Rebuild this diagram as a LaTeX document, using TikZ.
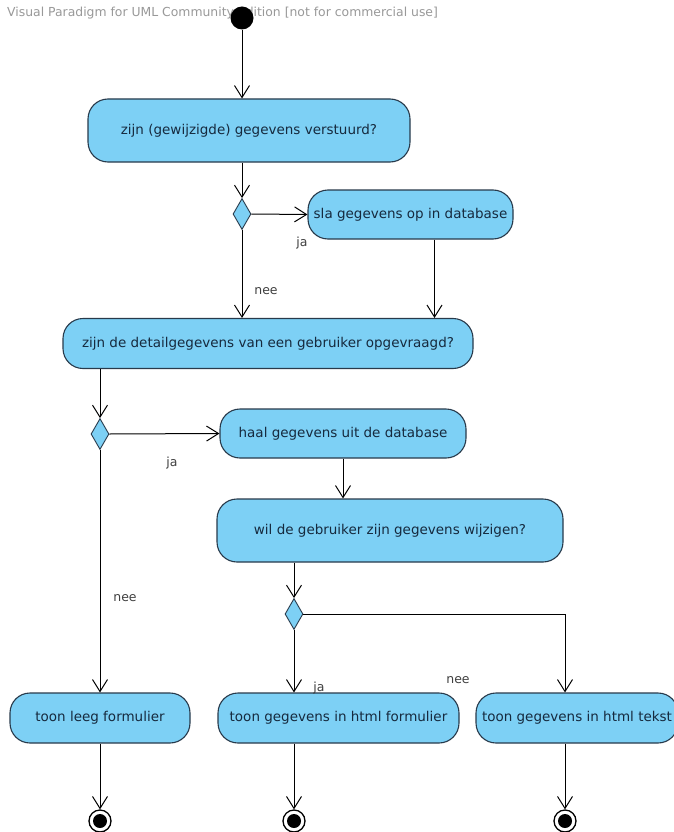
\documentclass[tikz,border=0pt]{standalone}
\usepackage{fontspec}
\setmainfont{DejaVu Sans}
\usetikzlibrary{arrows.meta,shapes.geometric}
\definecolor{actfill}{RGB}{125,208,245}
\definecolor{actdraw}{RGB}{40,58,75}
\definecolor{acttext}{RGB}{22,42,62}
\begin{document}
\begin{tikzpicture}[x=1pt,y=-1pt,
  act/.style={draw=actdraw, fill=actfill, rounded corners=20pt, line width=1.1pt,
    font=\fontsize{13.5}{15}\selectfont, text=acttext, inner sep=0pt},
  dec/.style={diamond, draw=actdraw, fill=actfill, minimum width=18pt, minimum height=31pt,
    inner sep=0pt, line width=0.9pt},
  flow/.style={-{Straight Barb[length=12pt,width=15pt,line width=1pt]}, line width=1pt},
  lbl/.style={font=\fontsize{12.5}{14}\selectfont, text=black!75, inner sep=0pt},
  startnode/.style={circle, fill=black, minimum size=23pt, inner sep=0pt},
  endnode/.style={circle, draw=black, fill=white, line width=1.3pt, minimum size=22pt, inner sep=0pt,
    path picture={\fill[black] (path picture bounding box.center) circle (7pt);}}]
\useasboundingbox (0,0) rectangle (674,832);
\fill[white] (0,0) rectangle (674,832);
% watermark
\node[anchor=west, text=black!40, font=\fontsize{12.4}{14}\selectfont, inner sep=0pt] (wm) at (7,13)
  {Visual Paradigm for UML Community Edition [not for commercial use]};
% nodes
\node[startnode] (init) at (242,18) {};
\node[act, minimum width=322pt, minimum height=63pt] (A1) at (249,130.5) {zijn (gewijzigde) gegevens verstuurd?};
\node[dec] (D1) at (242,214) {};
\node[act, minimum width=205pt, minimum height=49pt] (A2) at (410.5,214.5) {sla gegevens op in database};
\node[act, minimum width=410pt, minimum height=50pt] (A3) at (268,343.5) {zijn de detailgegevens van een gebruiker opgevraagd?};
\node[dec] (D2) at (100,434) {};
\node[act, minimum width=246pt, minimum height=49pt] (A4) at (343,433.5) {haal gegevens uit de database};
\node[act, minimum width=346pt, minimum height=63pt] (A5) at (390,530.5) {wil de gebruiker zijn gegevens wijzigen?};
\node[dec] (D3) at (294,614) {};
\node[act, minimum width=180pt, minimum height=50pt] (A6) at (100,718) {toon leeg formulier};
\node[act, minimum width=241pt, minimum height=50pt] (A7) at (338.5,718) {toon gegevens in html formulier};
\node[act, minimum width=202pt, minimum height=50pt] (A8) at (577,718) {toon gegevens in html tekst};
\node[endnode] (F1) at (100,821) {};
\node[endnode] (F2) at (294,821) {};
\node[endnode] (F3) at (565,821) {};
\coordinate (c3) at (565,614);
% flows
\draw[flow] (init) -- (init |- A1.north);
\draw[flow] (A1.south -| D1) -- (D1.north);
\draw[flow] (D1.east) -- (A2.west);
\draw[flow] (D1.south) -- (D1 |- A3.north);
\draw[flow] ([xshift=24pt]A2.south) -- ([xshift=24pt]A2.south |- A3.north);
\draw[flow] (A3.south -| D2) -- (D2.north);
\draw[flow] (D2.east) -- (A4.west);
\draw[flow] (D2.south) -- (D2 |- A6.north);
\draw[flow] (A4.south) -- (A4.south |- A5.north);
\draw[flow] (A5.south -| D3) -- (D3.north);
\draw[flow] (D3.south) -- (D3 |- A7.north);
\draw[flow] (D3.east) -- (c3) -- (c3 |- A8.north);
\draw[flow] (A6.south) -- (F1.north);
\draw[flow] (A7.south -| F2) -- (F2.north);
\draw[flow] (A8.south -| F3) -- (F3.north);
% labels
\node[lbl] (l1) at (302,243) {ja};
\node[lbl] (l2) at (266,291) {nee};
\node[lbl] (l3) at (172,463) {ja};
\node[lbl] (l4) at (125,598) {nee};
\node[lbl] (l5) at (319,688) {ja};
\node[lbl] (l6) at (458,680) {nee};
\end{tikzpicture}
\end{document}
